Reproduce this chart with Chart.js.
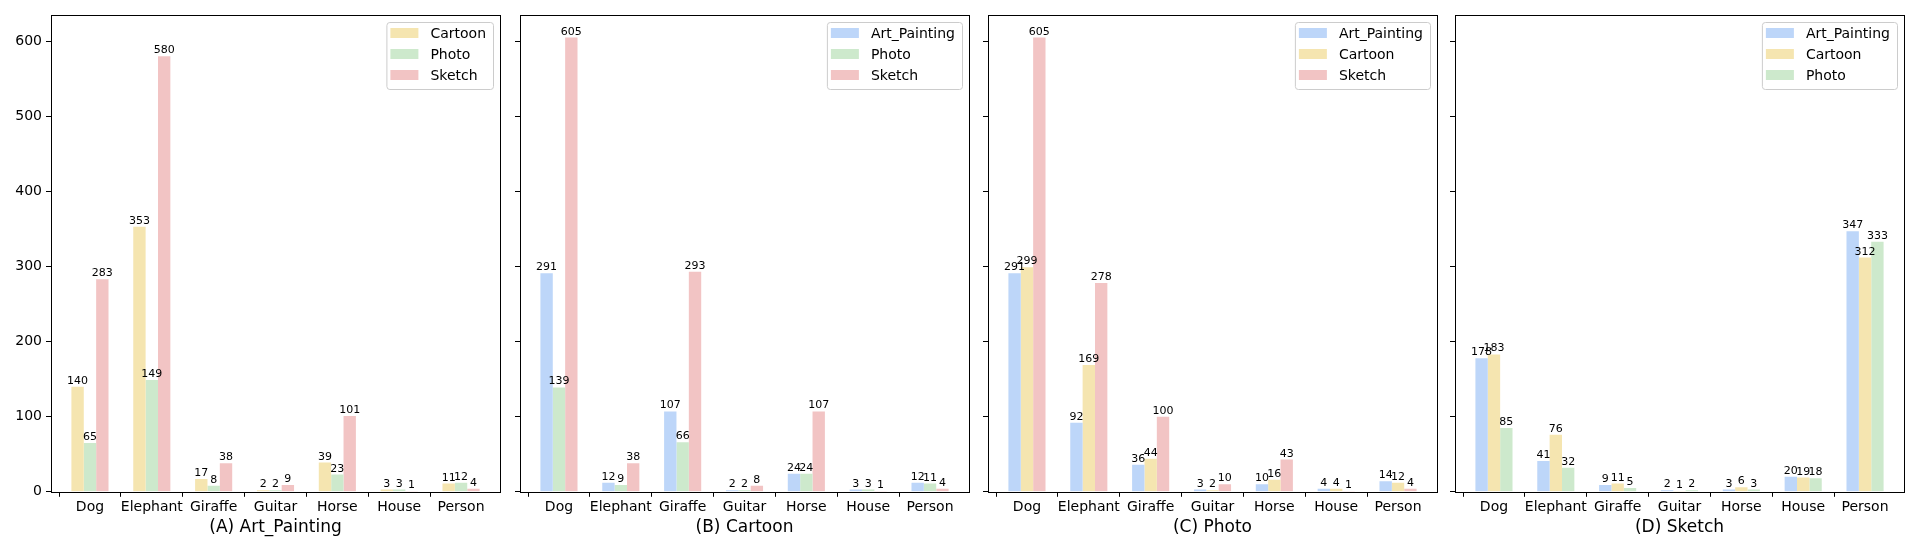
<!DOCTYPE html>
<html>
<head>
<meta charset="utf-8">
<script src="https://cdn.jsdelivr.net/npm/chart.js@4.4.0/dist/chart.umd.min.js"></script>
<style>
  body { margin: 0; background: #fff; width: 1920px; height: 550px; overflow: hidden; position: relative; }
  canvas { position: absolute; top: 0; }
</style>
</head>
<body>
<canvas id="chartA" width="502" height="550" style="left:0px"></canvas>
<canvas id="chartB" width="502" height="550" style="left:469px"></canvas>
<canvas id="chartC" width="502" height="550" style="left:937px"></canvas>
<canvas id="chartD" width="502" height="550" style="left:1404px"></canvas>
<script>
// categories + tick labels
const categories = ['Dog', 'Elephant', 'Giraffe', 'Guitar', 'Horse', 'House', 'Person'];
const yTicks = [0, 100, 200, 300, 400, 500, 600];
const yMax = 635;
const panelTitles = ['(A) Art_Painting', '(B) Cartoon', '(C) Photo', '(D) Sketch'];

// (A) Art_Painting
const aCartoon = [140, 353, 17, 2, 39, 3, 11];
const aPhoto   = [65, 149, 8, 2, 23, 3, 12];
const aSketch  = [283, 580, 38, 9, 101, 1, 4];
// (B) Cartoon
const bArtPainting = [291, 12, 107, 2, 24, 3, 12];
const bPhoto       = [139, 9, 66, 2, 24, 3, 11];
const bSketch      = [605, 38, 293, 8, 107, 1, 4];
// (C) Photo
const cArtPainting = [291, 92, 36, 3, 10, 4, 14];
const cCartoon     = [299, 169, 44, 2, 16, 4, 12];
const cSketch      = [605, 278, 100, 10, 43, 1, 4];
// (D) Sketch
const dArtPainting = [178, 41, 9, 2, 3, 20, 347];
const dCartoon     = [183, 76, 11, 1, 6, 19, 312];
const dPhoto       = [85, 32, 5, 2, 3, 18, 333];

const domainColors = {
    Art_Painting: '#bdd6f9',
    Cartoon: '#f5e5b0',
    Photo: '#cde9cc',
    Sketch: '#f2c4c4'
};

const FONT = "'DejaVu Sans', sans-serif";

/**
 * Frame (all four spines), bar value labels and the in-axes legend.
 */
const decorPlugin = {
    id: 'decor',
    afterDatasetsDraw(chart) {
        const ctx = chart.ctx;
        ctx.save();
        ctx.font = '11px ' + FONT;
        ctx.fillStyle = '#000';
        ctx.textAlign = 'center';
        ctx.textBaseline = 'alphabetic';
        chart.data.datasets.forEach((ds, i) => {
            chart.getDatasetMeta(i).data.forEach((bar, j) => {
                ctx.fillText(String(ds.data[j].y), bar.x, bar.y - 3);
            });
        });
        ctx.restore();
    },
    afterDraw(chart) {
        const ctx = chart.ctx;
        const a = chart.chartArea;
        ctx.save();
        ctx.strokeStyle = '#000';
        ctx.lineWidth = 1;
        ctx.strokeRect(Math.round(a.left) + 0.5, Math.round(a.top) + 0.5,
            Math.round(a.right - a.left), Math.round(a.bottom - a.top));

        // legend, upper right
        ctx.font = '14px ' + FONT;
        const names = chart.data.datasets.map(d => d.label);
        const textW = Math.max(...names.map(n => ctx.measureText(n).width));
        const boxW = 4 + 28 + 12 + textW + 7;
        const boxH = 67;
        const bx = a.right - 7 - boxW;
        const by = a.top + 7;
        ctx.beginPath();
        ctx.roundRect(bx + 0.5, by + 0.5, boxW, boxH, 3);
        ctx.fillStyle = 'rgba(255,255,255,0.8)';
        ctx.fill();
        ctx.strokeStyle = '#cccccc';
        ctx.stroke();
        ctx.textBaseline = 'middle';
        ctx.textAlign = 'left';
        chart.data.datasets.forEach((ds, i) => {
            const cy = by + 11 + i * 21;
            ctx.fillStyle = ds.backgroundColor;
            ctx.fillRect(bx + 4, cy - 5, 28, 10);
            ctx.fillStyle = '#000';
            ctx.fillText(ds.label, bx + 44, cy + 1);
        });
        ctx.restore();
    }
};

// only draw tick marks on whole category positions
const tickColor = c => (c.tick && Number.isInteger(c.tick.value)) ? '#000' : 'rgba(0,0,0,0)';

function makePanel(canvasId, title, series, showYLabels) {
    const datasets = series.map(([name, values]) => ({
        label: name,
        data: values.map((v, i) => ({ x: i, y: v })),
        backgroundColor: domainColors[name],
        borderWidth: 0,
        categoryPercentage: 0.6,
        barPercentage: 1.0
    }));

    const ctx = document.getElementById(canvasId).getContext('2d');
    return new Chart(ctx, {
        type: 'bar',
        data: { datasets: datasets },
        plugins: [decorPlugin],
        options: {
            responsive: false, animation: false, devicePixelRatio: 1,
            layout: { padding: { top: 15, right: 2, bottom: 8, left: 0 } },
            plugins: { legend: { display: false }, tooltip: { enabled: false } },
            scales: {
                x: {
                    type: 'linear', min: -0.63, max: 6.63, offset: false,
                    afterBuildTicks: s => { s.ticks = categories.map((c, i) => ({ value: i })); },
                    grid: { display: true, drawOnChartArea: false, drawTicks: true, tickLength: 5, color: tickColor },
                    border: { display: false },
                    ticks: {
                        autoSkip: false, maxRotation: 0, padding: 2, color: '#000',
                        font: { family: FONT, size: 14 },
                        callback: v => categories[v]
                    },
                    title: {
                        display: true, text: title, color: '#000',
                        font: { family: FONT, size: 17 },
                        padding: { top: 0, bottom: 4 }
                    }
                },
                y: {
                    min: 0, max: yMax,
                    afterBuildTicks: s => { s.ticks = yTicks.map(v => ({ value: v })); },
                    afterFit: s => { s.width = 51; },
                    grid: { display: true, drawOnChartArea: false, drawTicks: true, tickLength: 5, color: '#000' },
                    border: { display: false },
                    ticks: {
                        padding: 4, color: '#000',
                        font: { family: FONT, size: 14 },
                        callback: v => showYLabels ? String(v) : ''
                    }
                }
            }
        }
    });
}

makePanel('chartA', panelTitles[0], [['Cartoon', aCartoon], ['Photo', aPhoto], ['Sketch', aSketch]], true);
makePanel('chartB', panelTitles[1], [['Art_Painting', bArtPainting], ['Photo', bPhoto], ['Sketch', bSketch]], false);
makePanel('chartC', panelTitles[2], [['Art_Painting', cArtPainting], ['Cartoon', cCartoon], ['Sketch', cSketch]], false);
makePanel('chartD', panelTitles[3], [['Art_Painting', dArtPainting], ['Cartoon', dCartoon], ['Photo', dPhoto]], false);
</script>
</body>
</html>
